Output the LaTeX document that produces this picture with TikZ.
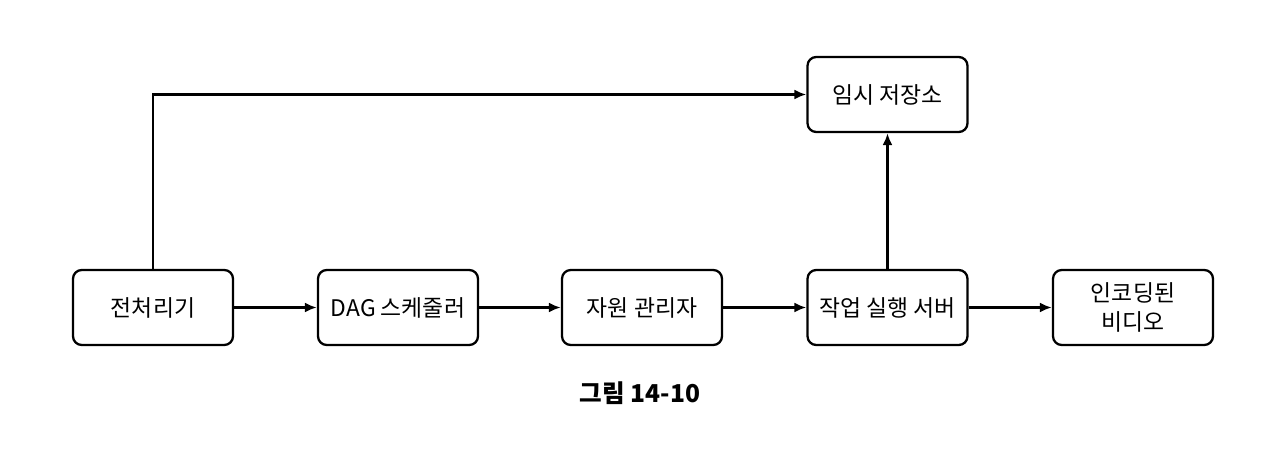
\documentclass[tikz,border=0pt]{standalone}
\usepackage{fontspec}
\setmainfont{Noto Sans CJK KR}
\usepackage{tikz}
\usetikzlibrary{arrows.meta}

\begin{document}
\begin{tikzpicture}[box/.style={draw,line width=1.3pt,rounded corners=5pt,minimum width=3.2cm,minimum height=1.5cm,align=center,font=\fontsize{13}{17}\selectfont},
                    conn/.style={-{Latex[length=2.4mm,width=2mm]},line width=1.3pt}]
                \useasboundingbox (0,0) rectangle (25.6,9);
                \node [box] (pre) at (3.06,2.85) {전처리기};
                \node [box] (dag) at (7.96,2.85) {DAG 스케줄러};
                \node [box] (res) at (12.84,2.85) {자원 관리자};
                \node [box] (exec) at (17.75,2.85) {작업 실행 서버};
                \node [box] (enc) at (22.66,2.85) {인코딩된\\비디오};
                \node [box] (tmp) at (17.75,7.11) {임시 저장소};
                \node [font=\bfseries\fontsize{14}{17}\selectfont] (cap) at (12.8,1.14) {그림 14-10};
                \draw [conn] (pre) -- (dag);
                \draw [conn] (dag) -- (res);
                \draw [conn] (res) -- (exec);
                \draw [conn] (exec) -- (enc);
                \draw [conn] (exec) -- (tmp);
                \draw [conn] (pre.north) |- (tmp.west);
            \end{tikzpicture}
\end{document}
